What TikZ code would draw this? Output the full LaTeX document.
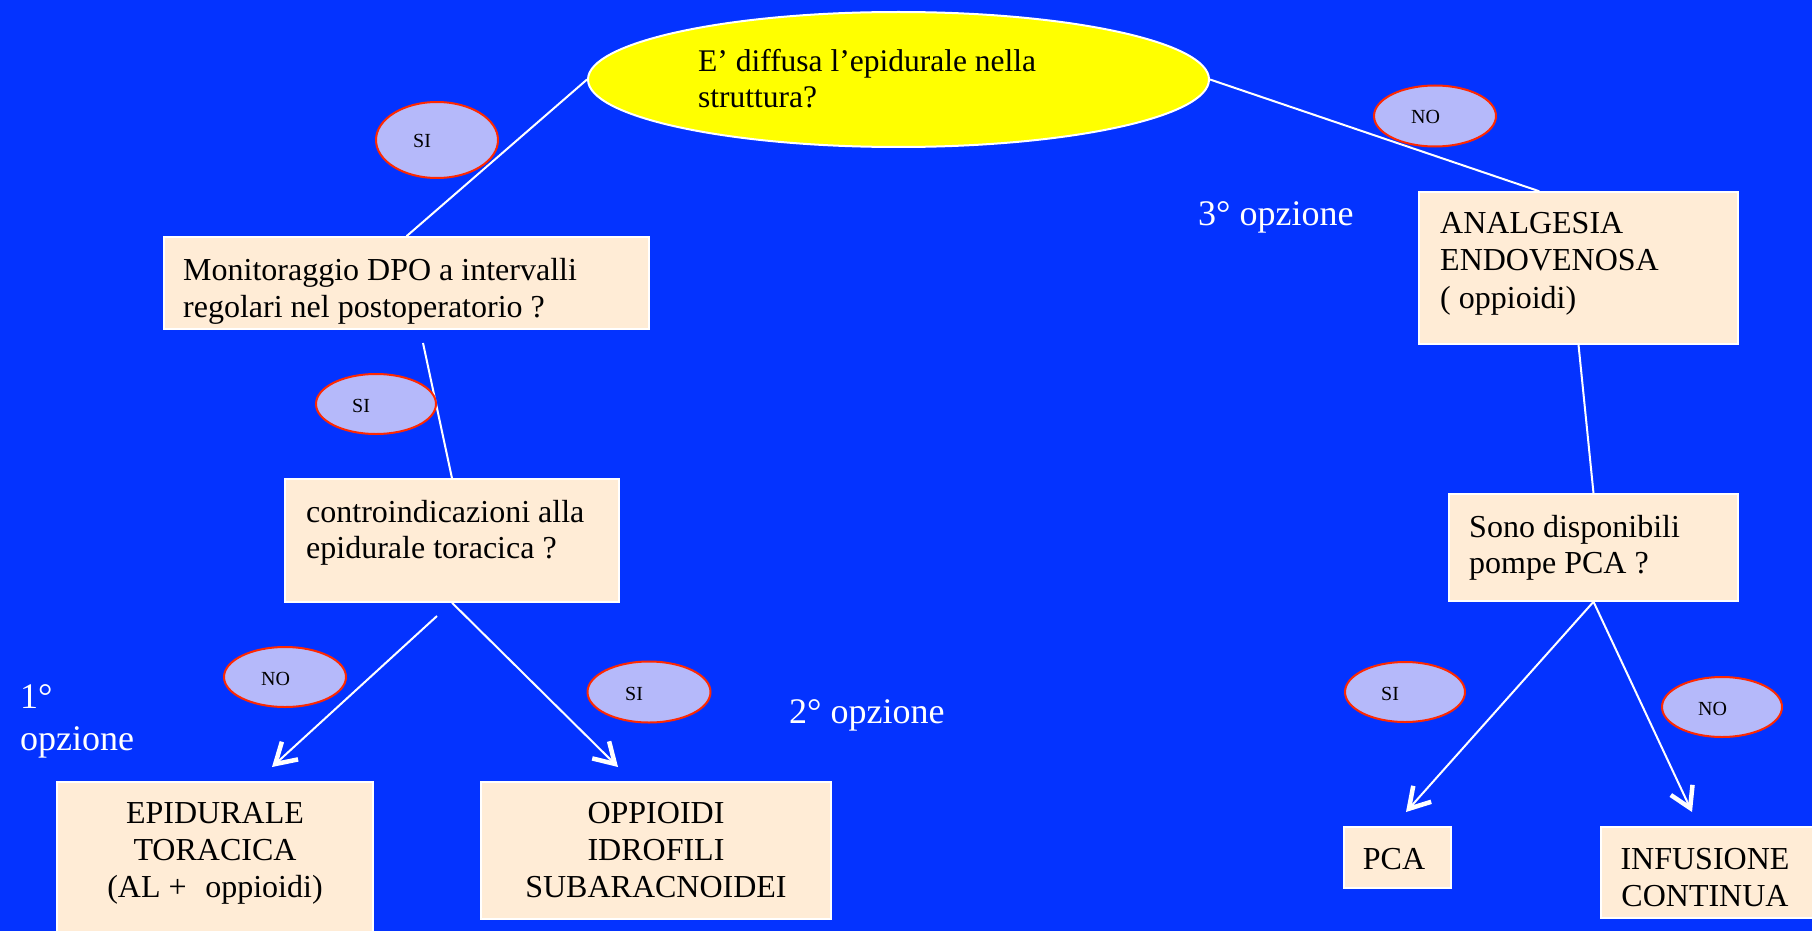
\documentclass[tikz,border=0pt]{standalone}
\usepackage{fontspec}
\setmainfont{Liberation Serif}
\usetikzlibrary{arrows.meta,shapes.geometric}

\definecolor{bg}{RGB}{4,51,255}
\definecolor{boxfill}{RGB}{255,236,214}
\definecolor{bubfill}{RGB}{181,185,250}
\definecolor{bubline}{RGB}{255,40,0}
\definecolor{qfill}{RGB}{255,255,0}

\begin{document}
\begin{tikzpicture}[x=1pt,y=-1pt,
  stepbox/.style={draw=white, line width=1.5pt, fill=boxfill, inner sep=0pt},
  question/.style={ellipse, draw=white, line width=2pt, fill=qfill, inner sep=0pt},
  bubble/.style={ellipse, draw=bubline, line width=2pt, fill=bubfill, inner sep=0pt},
  bubtext/.style={anchor=base west, inner sep=0pt, font=\fontsize{20}{24}\selectfont},
  boxtext/.style={inner sep=0pt, text=black, font=\fontsize{32}{37}\selectfont},
  optiontext/.style={anchor=base west, inner sep=0pt, text=white, align=left,
                     font=\fontsize{36}{42}\selectfont},
  link/.style={draw=white, line width=2pt},
  arrowlink/.style={draw=white, line width=2pt,
    -{Straight Barb[length=20pt, width=24pt, line width=4.5pt]}}
]
% background
\fill[bg] (0,0) rectangle (1812,931);
\useasboundingbox (0,0) rectangle (1812,931);

% main question (multi-line texts are placed by the baseline of their last line)
\node[question, minimum width=621pt, minimum height=135pt] (q) at (898.5,79.5) {};
\node[boxtext, anchor=base west, align=left, font=\fontsize{31.5}{36}\selectfont] (qt) at (698,108)
  {E’ diffusa l’epidurale nella\\struttura?};

% left branch boxes
\node[stepbox, minimum width=485pt, minimum height=92pt] (mon) at (406.5,283) {};
\node[boxtext, anchor=base west, align=left] (mont) at (183,317)
  {Monitoraggio DPO a intervalli\\regolari nel postoperatorio ?};

\node[stepbox, minimum width=334pt, minimum height=123pt] (contr) at (452,540.5) {};
\node[boxtext, anchor=base west, align=left, font=\fontsize{32}{36}\selectfont] (contrt) at (306,558)
  {controindicazioni alla\\epidurale toracica ?};

\node[stepbox, minimum width=316pt, minimum height=158pt] (epi) at (215,861) {};
\node[boxtext, anchor=base, align=center] (epit) at (215,897)
  {EPIDURALE\\TORACICA\\(AL +\,\, oppioidi)};

\node[stepbox, minimum width=350pt, minimum height=137pt] (opp) at (656,850.5) {};
\node[boxtext, anchor=base, align=center] (oppt) at (656,897)
  {OPPIOIDI\\IDROFILI\\SUBARACNOIDEI};

% right branch boxes
\node[stepbox, minimum width=319pt, minimum height=152pt] (ana) at (1578.5,268) {};
\node[boxtext, anchor=base west, align=left, font=\fontsize{32}{37.5}\selectfont] (anat) at (1440,308)
  {ANALGESIA\\ENDOVENOSA\\( oppioidi)};

\node[stepbox, minimum width=289pt, minimum height=107pt] (sono) at (1593.5,547.5) {};
\node[boxtext, anchor=base west, align=left, font=\fontsize{32}{36}\selectfont] (sonot) at (1469,573)
  {Sono disponibili\\pompe PCA ?};

\node[stepbox, minimum width=107pt, minimum height=61pt] (pca) at (1397.5,857.5) {};
\node[boxtext, anchor=base] (pcat) at (1394,869) {PCA};

\node[stepbox, minimum width=229pt, minimum height=91pt] (inf) at (1715.5,872.5) {};
\node[boxtext, anchor=base, align=center] (inft) at (1705,906)
  {INFUSIONE\\CONTINUA};

% free ends of connectors
\coordinate (mon-out) at (423,343);
\coordinate (contr-out) at (437,616);
\coordinate (epi-in) at (272,767);
\coordinate (opp-in) at (618,767);
\coordinate (pca-in) at (1406,812);
\coordinate (inf-in) at (1692,812);

% connectors
\draw[link] (q.west) -- (mon.north);
\draw[link] (q.east) -- ([xshift=121pt]ana.north west);
\draw[link] (mon-out) -- (contr.north);
\draw[link] (ana.south) -- (sono.north);
\draw[arrowlink] (contr-out) -- (epi-in);
\draw[arrowlink] (contr.south) -- (opp-in);
\draw[arrowlink] (sono.south) -- (pca-in);
\draw[arrowlink] (sono.south) -- (inf-in);

% answer bubbles
\node[bubble, minimum width=122pt, minimum height=76pt] (b1) at (437,140) {};
\node[bubtext] (b1t) at ([xshift=-24pt,yshift=-8pt]b1.center) {SI};
\node[bubble, minimum width=122pt, minimum height=61pt] (b2) at (1435,116) {};
\node[bubtext] (b2t) at ([xshift=-24pt,yshift=-8pt]b2.center) {NO};
\node[bubble, minimum width=120pt, minimum height=60pt] (b3) at (376,404) {};
\node[bubtext] (b3t) at ([xshift=-24pt,yshift=-8pt]b3.center) {SI};
\node[bubble, minimum width=122pt, minimum height=60pt] (b4) at (285,677) {};
\node[bubtext] (b4t) at ([xshift=-24pt,yshift=-8pt]b4.center) {NO};
\node[bubble, minimum width=123pt, minimum height=61pt] (b5) at (649,692) {};
\node[bubtext] (b5t) at ([xshift=-24pt,yshift=-8pt]b5.center) {SI};
\node[bubble, minimum width=120pt, minimum height=60pt] (b6) at (1405,692) {};
\node[bubtext] (b6t) at ([xshift=-24pt,yshift=-8pt]b6.center) {SI};
\node[bubble, minimum width=120pt, minimum height=60pt] (b7) at (1722,707) {};
\node[bubtext] (b7t) at ([xshift=-24pt,yshift=-8pt]b7.center) {NO};

% option labels
\node[optiontext] (opt1) at (20,750) {1°\\opzione};
\node[optiontext] (opt2) at (789,723) {2° opzione};
\node[optiontext] (opt3) at (1198,225) {3° opzione};
\end{tikzpicture}
\end{document}
